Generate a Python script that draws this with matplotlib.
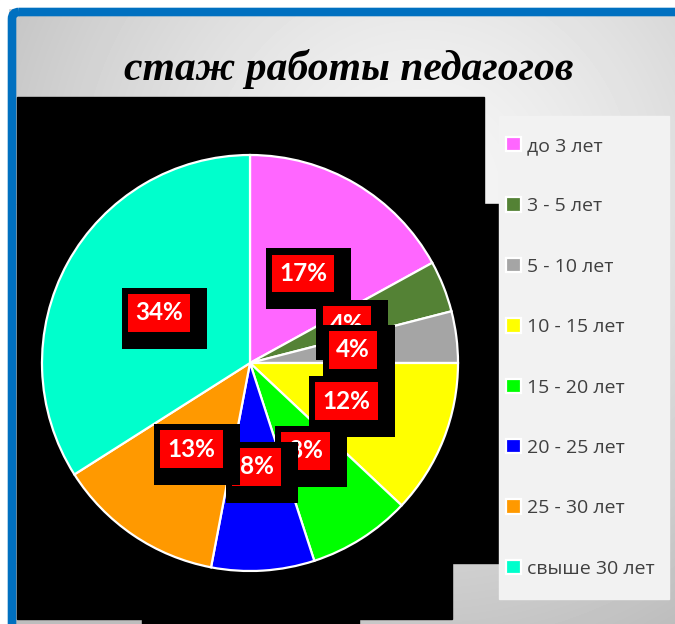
import numpy as np
import matplotlib
matplotlib.use("Agg")
import matplotlib.pyplot as plt
from matplotlib.patches import Rectangle, FancyBboxPatch
from matplotlib.transforms import offset_copy

# data
categories = ["до 3 лет", "3 - 5 лет", "5 - 10 лет", "10 - 15 лет",
              "15 - 20 лет", "20 - 25 лет", "25 - 30 лет", "свыше 30 лет"]
values = [17, 4, 4, 12, 8, 8, 13, 34]
colors = ["#FF66FF", "#548235", "#A5A5A5", "#FFFF00",
          "#00FF00", "#0000FF", "#FF9900", "#00FFCC"]
title = "стаж работы педагогов"

W, H = 675, 624
fig = plt.figure(figsize=(W / 100, H / 100), dpi=100, facecolor="white")

# background layer in pixel coordinates
bg = fig.add_axes([0, 0, 1, 1])
bg.set_xlim(0, W)
bg.set_ylim(H, 0)
bg.axis("off")

yy, xx = np.mgrid[0:H, 0:W]
d = np.hypot(xx - 420, yy - 190) / 470
grad = np.clip(0.97 - 0.21 * d ** 1.3, 0.74, 1)
bg.imshow(grad, cmap="gray", vmin=0, vmax=1, extent=(0, W, H, 0),
          interpolation="bilinear", zorder=0)
# white outside of the frame
bg.add_patch(Rectangle((0, 0), W, 8, color="white", zorder=1))
bg.add_patch(Rectangle((0, 0), 8, H, color="white", zorder=1))
# blue frame
bg.add_patch(FancyBboxPatch((12, 12), 700, 650,
                            boxstyle="round,pad=0,rounding_size=7",
                            fill=False, ec="#0070C0", lw=6.2, zorder=2))

# black plot area (as rendered in the original)
for x0, y0, x1, y1 in [(17, 97, 484, 204), (17, 204, 499, 563),
                       (17, 563, 452, 619), (142, 619, 359, 624)]:
    bg.add_patch(Rectangle((x0, y0), x1 - x0, y1 - y0, color="black", zorder=3))
# legend background
bg.add_patch(Rectangle((499, 116), 170, 483, color="#F2F2F2", zorder=3))

bg.text(349, 80, title, ha="center", va="baseline", fontsize=30,
        family="Liberation Serif", style="italic", weight="bold",
        color="black", zorder=4)

# pie
cx, cy, r = 250, 363, 208
ax = fig.add_axes([(cx - r) / W, (H - cy - r) / H, 2 * r / W, 2 * r / H])
wedges, texts, autotexts = ax.pie(
    values, colors=colors, startangle=90, counterclock=False,
    autopct="%d%%", pctdistance=0.5,
    wedgeprops=dict(edgecolor="white", linewidth=1.6),
    textprops=dict(color="white", fontsize=17.5, weight="bold", family="Lato"))
ax.set_xlim(-1, 1)
ax.set_ylim(-1, 1)

shadow_tr = offset_copy(ax.transData, fig=fig, x=4, y=-3.8, units="points")
for i, t in enumerate(autotexts):
    x, y = t.get_position()
    ax.text(x, y, t.get_text(), transform=shadow_tr, ha="center", va="center",
            fontsize=17.5, weight="bold", family="Lato", color="black",
            bbox=dict(boxstyle="square,pad=0.78", fc="black", ec="none"),
            zorder=10 + 2 * i, clip_on=False)
    t.set_bbox(dict(boxstyle="square,pad=0.3", fc="#FF0000", ec="none"))
    t.set_zorder(11 + 2 * i)
    t.set_clip_on(False)

leg = ax.legend(wedges, categories, loc="upper left",
                bbox_to_anchor=(506 / W, 1 - 137 / H),
                bbox_transform=fig.transFigure, frameon=False,
                prop=dict(family="Open Sans", size=14),
                labelcolor="#404040", handlelength=0.75, handleheight=0.75,
                handletextpad=0.35, labelspacing=2.18, borderpad=0,
                borderaxespad=0)
leg.set_zorder(20)

fig.savefig("out.png", dpi=100, facecolor="white")
